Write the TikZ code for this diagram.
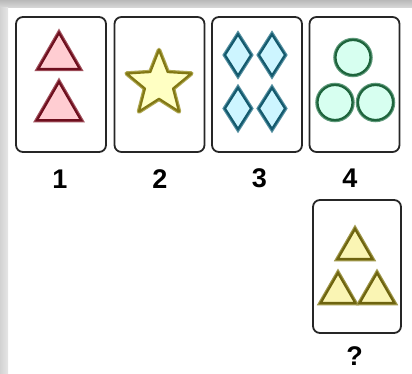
\documentclass[tikz,border=0pt]{standalone}
\usepackage{fontspec}
\setmainfont{Liberation Sans}
\usetikzlibrary{shapes.geometric, positioning}
\definecolor{cRedFill}{RGB}{255,205,210}
\definecolor{cRedLine}{RGB}{110,15,30}
\definecolor{cStarFill}{RGB}{255,255,195}
\definecolor{cStarLine}{RGB}{130,120,20}
\definecolor{cDiaFill}{RGB}{205,245,255}
\definecolor{cDiaLine}{RGB}{20,90,110}
\definecolor{cBallFill}{RGB}{215,255,240}
\definecolor{cBallLine}{RGB}{30,100,60}
\definecolor{cTriFill}{RGB}{250,245,180}
\definecolor{cTriLine}{RGB}{110,100,15}

\begin{document}
\begin{tikzpicture}[x=1pt, y=-1pt,
            card/.style={draw=black!85, line width=1.8pt, rounded corners=7pt, fill=white,
                minimum width=90pt, minimum height=135pt, inner sep=0pt},
            lbl/.style={font=\fontsize{27}{27}\selectfont\bfseries, inner sep=0pt},
            glow/.style 2 args={fill=#1, draw=#2, line width=2.2pt,
                preaction={draw=#2!65!#1, line width=4.5pt}},
            tri/.style={regular polygon, regular polygon sides=3, inner sep=0pt, minimum size=#1},
            dia/.style={diamond, inner sep=0pt, minimum width=27pt, minimum height=42pt},
            ball/.style={circle, inner sep=0pt, minimum size=35pt}]
            \useasboundingbox (0,0) rectangle (412,374);
            % frame shadow
            \shade[top color=gray!55, bottom color=gray!30] (0,0) rectangle (412,8);
            \shade[left color=gray!35, right color=gray!20] (0,8) rectangle (8,374);
            % cards
            \node[card] (c1) at (61,84.5)   {};
            \node[card] (c2) at (159.5,84.5) {};
            \node[card] (c3) at (257,84.5)  {};
            \node[card] (c4) at (354.5,84.5) {};
            \node[card, minimum width=88pt, minimum height=133pt] (cq) at (357,266.5) {};
            \node[lbl] (n1) at (60,179)    {1};
            \node[lbl] (n2) at (160,179)   {2};
            \node[lbl] (n3) at (259.5,178) {3};
            \node[lbl] (n4) at (350,178)   {4};
            \node[lbl] (nq) at (354.5,356.5) {?};
            % card 1
            \node[tri=48pt, glow={cRedFill}{cRedLine}] (r1) at (59,57)    {};
            \node[tri=51pt, glow={cRedFill}{cRedLine}] (r2) at (59,107.5) {};
            % card 2
            \node[star, star points=5, star point ratio=2.3, inner sep=0pt, minimum size=68pt,
                glow={cStarFill}{cStarLine}, line join=round] (s) at (159,84) {};
            % card 3
            \foreach \x/\y [count=\i] in {238/55, 272/55, 238/108.5, 272/108.5}
                \node[dia, glow={cDiaFill}{cDiaLine}] (d\i) at (\x,\y) {};
            % card 4
            \node[ball, glow={cBallFill}{cBallLine}] (b1) at (353,57.5)  {};
            \node[ball, glow={cBallFill}{cBallLine}] (b2) at (335,102.5) {};
            \node[ball, glow={cBallFill}{cBallLine}] (b3) at (375.5,102.5) {};
            % card ?
            \node[tri=40pt, glow={cTriFill}{cTriLine}] (y1) at (355,249) {};
            \node[tri=40pt, glow={cTriFill}{cTriLine}] (y2) at (338,293) {};
            \node[tri=40pt, glow={cTriFill}{cTriLine}] (y3) at (377,293) {};
        \end{tikzpicture}
\end{document}
